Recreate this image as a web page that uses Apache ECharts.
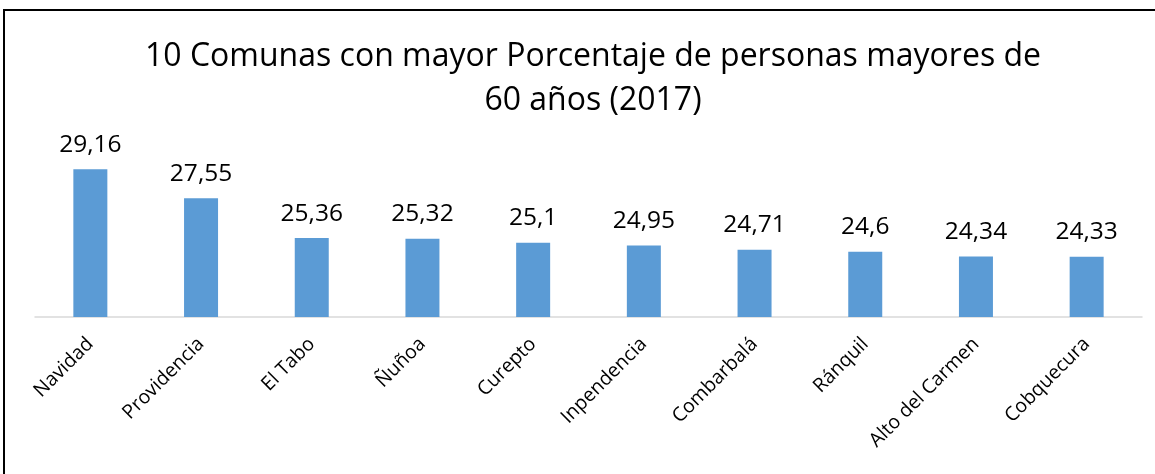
<!DOCTYPE html>
<html>
<head>
<meta charset="utf-8">
<script src="https://cdn.jsdelivr.net/npm/echarts@6/dist/echarts.min.js"></script>
<style>
  html, body { margin: 0; padding: 0; background: #fff; }
  #chart { width: 1155px; height: 474px; }
</style>
</head>
<body>
<div id="chart"></div>
<script>
const comunas = ['Navidad', 'Providencia', 'El Tabo', 'Ñuñoa', 'Curepto', 'Inpendencia', 'Combarbalá', 'Ránquil', 'Alto del Carmen', 'Cobquecura'];
const porcentajes = [29.16, 27.55, 25.36, 25.32, 25.1, 24.95, 24.71, 24.6, 24.34, 24.33];

const chart = echarts.init(document.getElementById('chart'));
const font = '"Open Sans", "Liberation Sans", sans-serif';

chart.setOption({
  animation: false,
  title: {
    text: '10 Comunas con mayor Porcentaje de personas mayores de\n60 años (2017)',
    left: 588,
    textAlign: 'center',
    top: 30,
    textStyle: {
      fontFamily: font,
      fontSize: 32,
      fontWeight: 'normal',
      color: '#000',
      lineHeight: 44,
    },
  },
  graphic: [
    {
      type: 'rect',
      shape: { x: 4, y: 10, width: 1170, height: 480 },
      style: { fill: 'none', stroke: '#000', lineWidth: 2 },
      silent: true,
    },
  ],
  grid: {
    left: 35,
    right: 13,
    top: 154,
    bottom: 157,
  },
  xAxis: {
    type: 'category',
    data: comunas,
    axisTick: { show: false },
    axisLine: { lineStyle: { color: '#d9d9d9', width: 1.5 } },
    axisLabel: {
      rotate: 45,
      margin: 24,
      interval: 0,
      fontFamily: font,
      fontSize: 19.5,
      color: '#000',
    },
  },
  yAxis: {
    type: 'value',
    min: 21,
    max: 30,
    show: false,
    splitLine: { show: false },
  },
  series: [
    {
      type: 'bar',
      data: porcentajes,
      barWidth: 34,
      itemStyle: { color: '#5b9bd5' },
      label: {
        show: true,
        position: 'top',
        distance: 12,
        fontFamily: font,
        fontSize: 24.5,
        color: '#000',
        formatter: (p) => String(p.value).replace('.', ','),
      },
    },
  ],
});
</script>
</body>
</html>
